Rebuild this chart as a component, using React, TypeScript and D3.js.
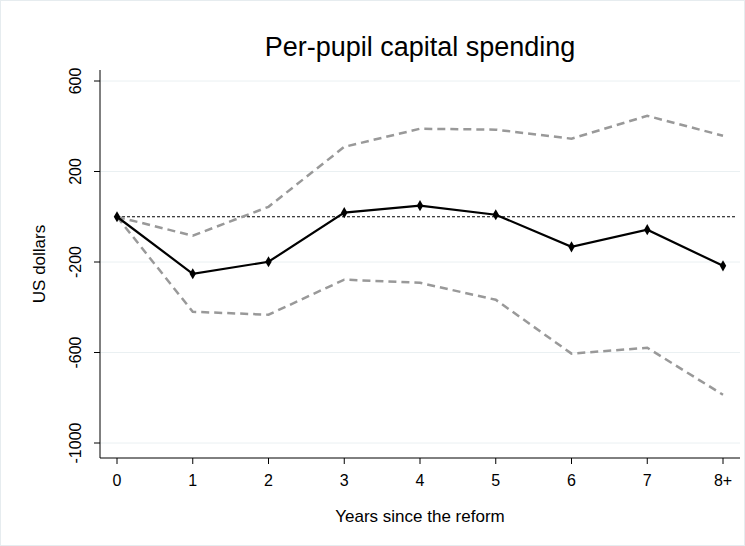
import React from 'react';
import * as d3 from 'd3';

const categories = ['0', '1', '2', '3', '4', '5', '6', '7', '8+'];
const estimate = [0, -252, -199, 18, 49, 9, -133, -57, -217];
const upper = [0, -84, 44, 309, 389, 385, 345, 446, 358];
const lower = [0, -420, -433, -278, -292, -367, -605, -579, -787];
const yTicks = [600, 200, -200, -600, -1000];

export default function App() {
  const W = 745, H = 546;
  const x = d3.scalePoint<string>().domain(categories).range([117, 723]);
  const y = d3.scaleLinear().domain([-1000, 600]).range([443, 81]);
  const line = d3.line<number>().x((_, i) => x(categories[i])!).y(d => y(d));
  const font = 'Arial, "Liberation Sans", sans-serif';
  return (
    <svg width={W} height={H} style={{ position: 'absolute', left: 0, top: 0 }} fontFamily={font}>
      <rect x={0.5} y={0.5} width={W - 1} height={H - 1} fill="#fff" stroke="#e6ecef" />
      <text x={420} y={56} textAnchor="middle" fontSize={27}>Per-pupil capital spending</text>
      {yTicks.map(t => (
        <g key={t}>
          <line x1={100} x2={740} y1={y(t)} y2={y(t)} stroke="#eaf0f2" />
          <line x1={94} x2={100} y1={y(t)} y2={y(t)} stroke="#000" />
          <text transform={`translate(81,${y(t)}) rotate(-90)`} textAnchor="middle" fontSize={16}>{t}</text>
        </g>
      ))}
      <line x1={100} x2={100} y1={70} y2={458} stroke="#000" />
      <line x1={100} x2={740} y1={458} y2={458} stroke="#000" />
      {categories.map(c => (
        <g key={c}>
          <line x1={x(c)} x2={x(c)} y1={458} y2={464} stroke="#000" />
          <text x={x(c)} y={486} textAnchor="middle" fontSize={16}>{c}</text>
        </g>
      ))}
      <text transform="translate(45,264) rotate(-90)" textAnchor="middle" fontSize={17}>US dollars</text>
      <text x={420} y={522} textAnchor="middle" fontSize={17}>Years since the reform</text>
      <line x1={117} x2={737} y1={y(0)} y2={y(0)} stroke="#000" strokeDasharray="3,2" />
      <path d={line(upper)!} fill="none" stroke="#999" strokeWidth={2.5} strokeDasharray="8,5" />
      <path d={line(lower)!} fill="none" stroke="#999" strokeWidth={2.5} strokeDasharray="8,5" />
      <path d={line(estimate)!} fill="none" stroke="#000" strokeWidth={2.2} />
      {estimate.map((v, i) => (
        <path key={i} d={d3.symbol(d3.symbolDiamond, 36)()!} transform={`translate(${x(categories[i])},${y(v)})`} fill="#000" />
      ))}
    </svg>
  );
}
